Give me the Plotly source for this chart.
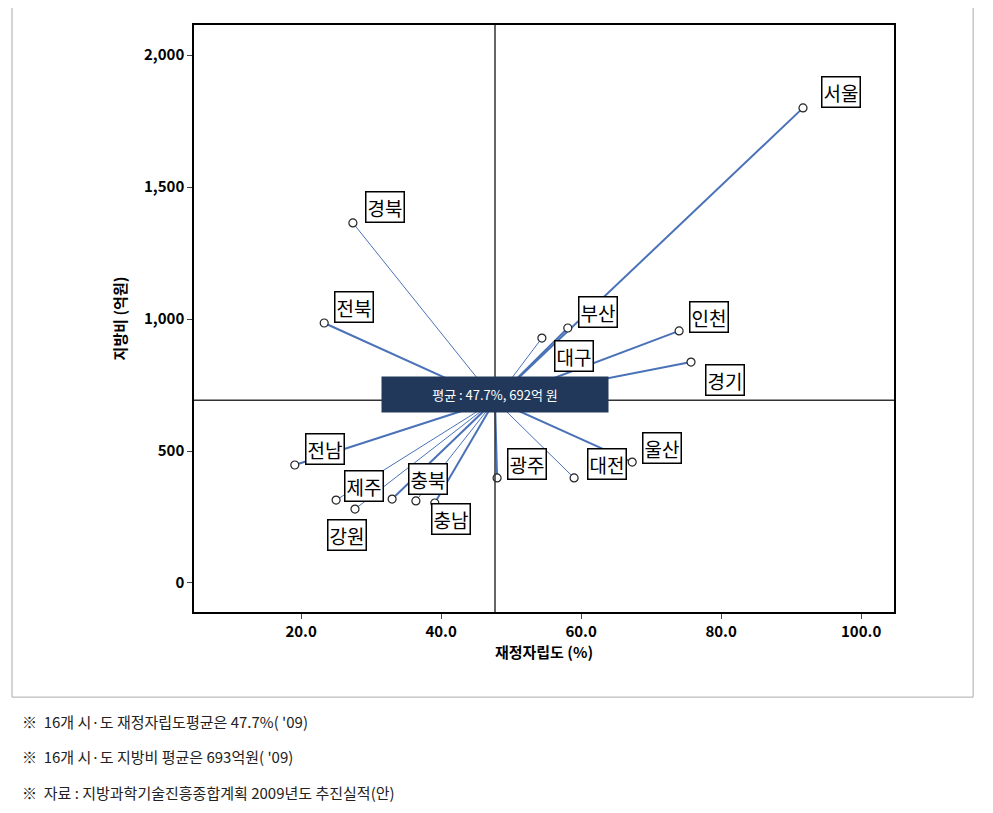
import plotly.graph_objects as go

regions = ["서울", "경북", "전북", "부산", "대구", "인천", "경기", "울산",
           "대전", "광주", "전남", "제주", "경남", "강원", "충북", "충남"]
autonomy = [91.7, 27.4, 23.3, 58.1, 54.4, 74.0, 75.7, 67.3,
            59.0, 48.0, 19.1, 25.0, 33.0, 27.7, 36.4, 39.1]
budget = [1800, 1364, 985, 966, 928, 955, 837, 458,
          398, 398, 447, 314, 318, 280, 311, 303]
mean_x, mean_y = 47.7, 692
xticks = [20, 40, 60, 80, 100]
yticks = [0, 500, 1000, 1500, 2000]

# label placement (pixel offsets from the point) and spoke widths
label_shift = {
    "서울": (38, 16), "경북": (32, 16), "전북": (30, 16), "부산": (30, 16),
    "대구": (32, -18), "인천": (30, 14), "경기": (34, -18), "울산": (30, 14),
    "대전": (33, 14), "광주": (30, 14), "전남": (30, 16), "제주": (28, 14),
    "경남": None, "강원": (-8, -26), "충북": (12, 22), "충남": (16, -16),
}
thin = {"경북", "대전", "대구", "제주", "강원", "충북"}

fig = go.Figure()
for name, x, y in zip(regions, autonomy, budget):
    fig.add_trace(go.Scatter(
        x=[mean_x, x], y=[mean_y, y], mode="lines",
        line=dict(color="#4a72b8", width=1 if name in thin else 2),
        hoverinfo="skip", showlegend=False,
    ))
fig.add_trace(go.Scatter(
    x=autonomy, y=budget, mode="markers", text=regions, showlegend=False,
    marker=dict(size=8, color="white", line=dict(color="#222", width=1.2)),
))

for name, x, y in zip(regions, autonomy, budget):
    shift = label_shift[name]
    if shift is None:
        continue
    fig.add_annotation(
        x=x, y=y, text=name, showarrow=False, xshift=shift[0], yshift=shift[1],
        font=dict(size=19, color="black", family="Noto Sans CJK KR"),
        bgcolor="white", bordercolor="black", borderwidth=1.5, borderpad=1,
    )

fig.add_vline(x=mean_x, line=dict(color="#333", width=1.5))
fig.add_hline(y=mean_y, line=dict(color="#333", width=1.5))
fig.add_annotation(
    x=mean_x, y=mean_y, text="평균 : 47.7%, 692억 원", showarrow=False,
    yshift=6, font=dict(size=13, color="white", family="Noto Sans CJK KR"),
    bgcolor="#22385a", borderpad=8, width=210,
)

# outer frame and footnotes
fig.add_shape(type="rect", xref="paper", yref="paper",
              x0=-0.26, x1=1.113, y0=-0.145, y1=1.039,
              line=dict(color="#aaa", width=1))
notes = ["※  16개 시·도 재정자립도평균은 47.7%( '09)",
         "※  16개 시·도 지방비 평균은 693억원( '09)",
         "※  자료 : 지방과학기술진흥종합계획 2009년도 추진실적(안)"]
for i, t in enumerate(notes):
    fig.add_annotation(xref="paper", yref="paper", x=-0.249, y=-0.187 - i * 0.06,
                       text=t, showarrow=False, xanchor="left", yanchor="middle",
                       font=dict(size=15, color="#222", family="Noto Sans CJK KR"))

fig.update_layout(
    width=993, height=813, plot_bgcolor="white", paper_bgcolor="white",
    margin=dict(l=186, r=107, t=17, b=209),
    font=dict(family="Noto Sans CJK KR", color="black"),
    xaxis=dict(range=[4.7, 104.7], tickvals=xticks,
               ticktext=[f"<b>{v:.1f}</b>" for v in xticks], ticks="outside",
               showgrid=False, zeroline=False, showline=True, mirror=True,
               linecolor="black", linewidth=1.5, tickfont=dict(size=15),
               title=dict(text="<b>재정자립도 (%)</b>", font=dict(size=15), standoff=8)),
    yaxis=dict(range=[-110, 2114], tickvals=yticks,
               ticktext=[f"<b>{v:,}</b>" for v in yticks],
               ticks="outside", showgrid=False, zeroline=False, showline=True,
               mirror=True, linecolor="black", linewidth=1.5,
               tickfont=dict(size=15),
               title=dict(text="<b>지방비 (억원)</b>", font=dict(size=15), standoff=14)),
)

fig.write_html("out.html")
